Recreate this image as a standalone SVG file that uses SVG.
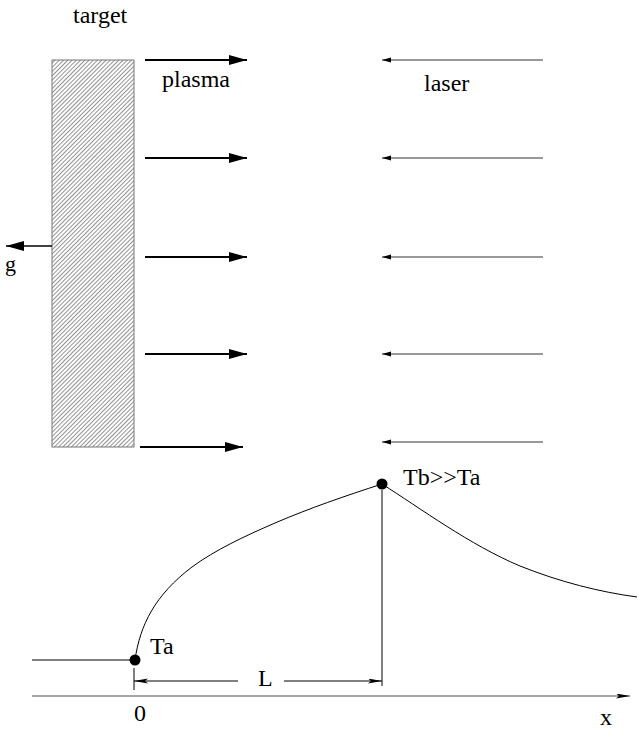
<svg xmlns="http://www.w3.org/2000/svg" width="637" height="729" viewBox="0 0 637 729">
<style>
.plasma{stroke:#000;stroke-width:1.8;fill:none;marker-end:url(#hBig)}
.laser{stroke:#333;stroke-width:1;fill:none;marker-end:url(#hSmall)}
.thin{stroke:#000;stroke-width:1;fill:none}
</style>
<defs>
<pattern id="hatch" patternUnits="userSpaceOnUse" width="3" height="3" patternTransform="rotate(45)">
<line x1="0.5" y1="0" x2="0.5" y2="3" stroke="#777" stroke-width="0.8"/>
</pattern>
<marker id="hBig" markerUnits="userSpaceOnUse" markerWidth="20" markerHeight="12" refX="18" refY="5" orient="auto">
<polygon points="0,0 18,5 0,10" fill="#000"/>
</marker>
<marker id="hSmall" markerUnits="userSpaceOnUse" markerWidth="12" markerHeight="6" refX="9" refY="2.5" orient="auto">
<polygon points="0,0 9,2.5 0,5" fill="#000"/>
</marker>
<marker id="hDim" markerUnits="userSpaceOnUse" markerWidth="16" markerHeight="6" refX="14" refY="2.5" orient="auto">
<polygon points="0,0 14,2.5 0,5 3,2.5" fill="#000"/>
</marker>
</defs>

<g id="target">
<rect x="52" y="60" width="82" height="387" fill="url(#hatch)" stroke="#777" stroke-width="1"/>
<text x="73" y="23" font-family="Liberation Serif" font-size="24">target</text>
</g>

<g id="connectors">
<line class="plasma" x1="145" y1="60" x2="247" y2="60"/>
<line class="plasma" x1="145" y1="158" x2="247" y2="158"/>
<line class="plasma" x1="145" y1="257" x2="247" y2="257"/>
<line class="plasma" x1="145" y1="354" x2="247" y2="354"/>
<line class="plasma" x1="140" y1="447" x2="243" y2="447"/>
<line class="laser" x1="543" y1="60" x2="382" y2="60"/>
<line class="laser" x1="543" y1="158" x2="382" y2="158"/>
<line class="laser" x1="543" y1="257" x2="382" y2="257"/>
<line class="laser" x1="543" y1="354" x2="382" y2="354"/>
<line class="laser" x1="543" y1="442" x2="382" y2="442"/>
<line x1="52" y1="246" x2="6" y2="246" stroke="#000" stroke-width="1.6" marker-end="url(#hBig)"/>
</g>

<g id="labels">
<text x="162" y="87" font-family="Liberation Serif" font-size="24">plasma</text>
<text x="424" y="91" font-family="Liberation Serif" font-size="24">laser</text>
<text x="5" y="271" font-family="Liberation Serif" font-size="22">g</text>
</g>

<g id="profile">
<line class="thin" x1="32" y1="660" x2="135" y2="660" stroke-width="1.5"/>
<path class="thin" stroke-width="1.3" d="M135,660 C140,625 155,595 192,567 C215,550 245,536 275,523 C310,508 345,496 382,484"/>
<path class="thin" stroke-width="1.3" d="M382,484 C420,508 470,545 520,566 C560,582 600,592 637,597"/>
<circle cx="135" cy="660" r="5.5" fill="#000"/>
<circle cx="382" cy="484" r="5.5" fill="#000"/>
<text x="150" y="654" font-family="Liberation Serif" font-size="24">Ta</text>
<text x="403" y="485" font-family="Liberation Serif" font-size="24">Tb&gt;&gt;Ta</text>
</g>

<g id="dimension">
<line class="thin" x1="134" y1="668" x2="134" y2="690" stroke="#222"/>
<line class="thin" x1="382" y1="490" x2="382" y2="686" stroke="#222"/>
<line class="thin" x1="238" y1="681" x2="134" y2="681" marker-end="url(#hDim)"/>
<line class="thin" x1="284" y1="681" x2="382" y2="681" marker-end="url(#hDim)"/>
<text x="258" y="686" font-family="Liberation Serif" font-size="24">L</text>
</g>

<g id="axis">
<line x1="32" y1="696" x2="630" y2="696" stroke="#888" stroke-width="1.5" marker-end="url(#hDim)"/>
<text x="134" y="721" font-family="Liberation Serif" font-size="24">0</text>
<text x="600" y="725" font-family="Liberation Serif" font-size="24">x</text>
</g>
</svg>
